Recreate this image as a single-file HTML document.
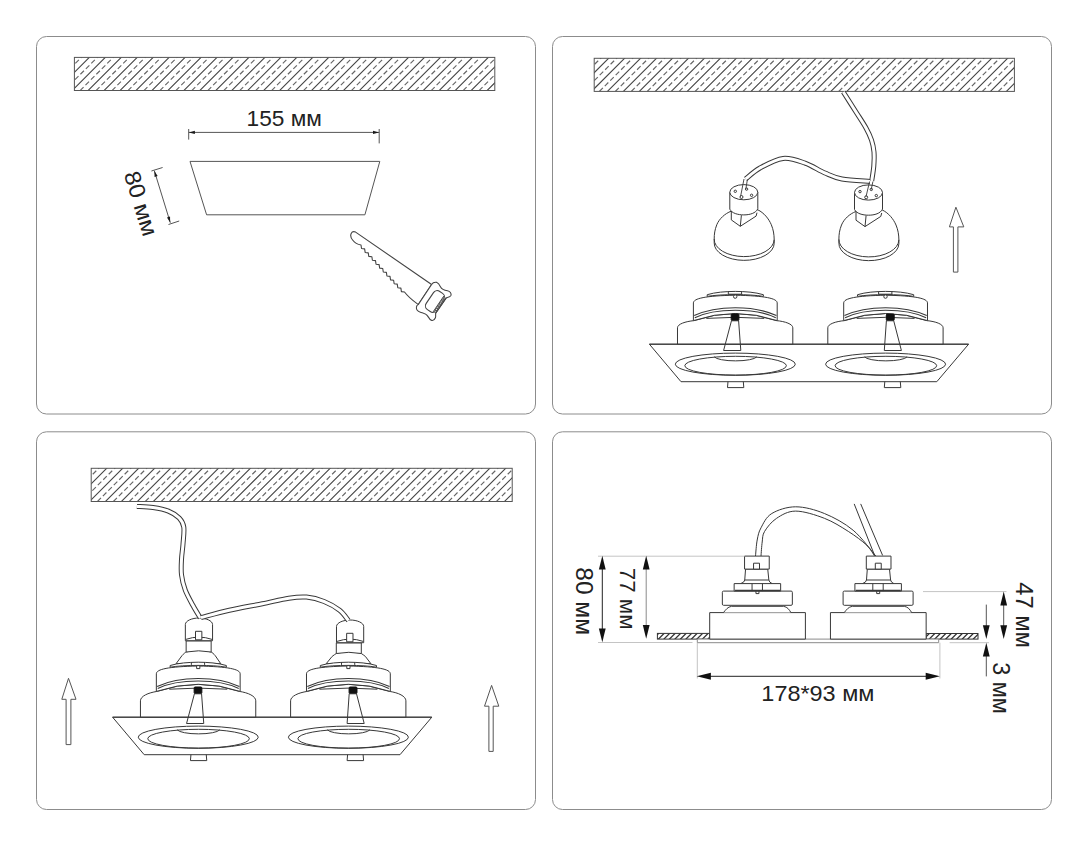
<!DOCTYPE html><html><head><meta charset="utf-8"><style>html,body{margin:0;padding:0;background:#fff;}svg{display:block;font-family:"Liberation Sans",sans-serif;}</style></head><body><svg width="1088" height="846" viewBox="0 0 1088 846"><rect width="1088" height="846" fill="#fff"/><rect x="36.5" y="36.5" width="499" height="377.5" rx="10" ry="10" fill="none" stroke="#8c8c8c" stroke-width="1"/>
<rect x="552.5" y="36.5" width="499" height="377.5" rx="10" ry="10" fill="none" stroke="#8c8c8c" stroke-width="1"/>
<rect x="36.5" y="431.8" width="499" height="377.7" rx="10" ry="10" fill="none" stroke="#8c8c8c" stroke-width="1"/>
<rect x="552.5" y="431.8" width="499" height="377.7" rx="10" ry="10" fill="none" stroke="#8c8c8c" stroke-width="1"/>
<clipPath id="hc1"><rect x="74.4" y="57.4" width="420.4" height="33.1"/></clipPath>
<g clip-path="url(#hc1)"><path d="M60.38,54.4L21.28,93.5M76.34,54.4L37.24,93.5M92.3,54.4L53.2,93.5M108.26,54.4L69.16,93.5M124.22,54.4L85.12,93.5M140.18,54.4L101.08,93.5M156.14,54.4L117.04,93.5M172.1,54.4L133,93.5M188.06,54.4L148.96,93.5M204.02,54.4L164.92,93.5M219.98,54.4L180.88,93.5M235.94,54.4L196.84,93.5M251.9,54.4L212.8,93.5M267.86,54.4L228.76,93.5M283.82,54.4L244.72,93.5M299.78,54.4L260.68,93.5M315.74,54.4L276.64,93.5M331.7,54.4L292.6,93.5M347.66,54.4L308.56,93.5M363.62,54.4L324.52,93.5M379.58,54.4L340.48,93.5M395.54,54.4L356.44,93.5M411.5,54.4L372.4,93.5M427.46,54.4L388.36,93.5M443.42,54.4L404.32,93.5M459.38,54.4L420.28,93.5M475.34,54.4L436.24,93.5M491.3,54.4L452.2,93.5M507.26,54.4L468.16,93.5M523.22,54.4L484.12,93.5M539.18,54.4L500.08,93.5M555.14,54.4L516.04,93.5" stroke="#444" stroke-width="1.1" fill="none"/><path d="M68.36,54.4L29.26,93.5M84.32,54.4L45.22,93.5M100.28,54.4L61.18,93.5M116.24,54.4L77.14,93.5M132.2,54.4L93.1,93.5M148.16,54.4L109.06,93.5M164.12,54.4L125.02,93.5M180.08,54.4L140.98,93.5M196.04,54.4L156.94,93.5M212,54.4L172.9,93.5M227.96,54.4L188.86,93.5M243.92,54.4L204.82,93.5M259.88,54.4L220.78,93.5M275.84,54.4L236.74,93.5M291.8,54.4L252.7,93.5M307.76,54.4L268.66,93.5M323.72,54.4L284.62,93.5M339.68,54.4L300.58,93.5M355.64,54.4L316.54,93.5M371.6,54.4L332.5,93.5M387.56,54.4L348.46,93.5M403.52,54.4L364.42,93.5M419.48,54.4L380.38,93.5M435.44,54.4L396.34,93.5M451.4,54.4L412.3,93.5M467.36,54.4L428.26,93.5M483.32,54.4L444.22,93.5M499.28,54.4L460.18,93.5M515.24,54.4L476.14,93.5M531.2,54.4L492.1,93.5M547.16,54.4L508.06,93.5M563.12,54.4L524.02,93.5" stroke="#666" stroke-width="1.15" stroke-dasharray="5 2.7" fill="none"/></g>
<rect x="74.4" y="57.4" width="420.4" height="33.1" fill="none" stroke="#555" stroke-width="1"/>
<clipPath id="hc2"><rect x="594.2" y="58.3" width="420.2" height="33.1"/></clipPath>
<g clip-path="url(#hc2)"><path d="M579.68,55.3L540.58,94.4M595.64,55.3L556.54,94.4M611.6,55.3L572.5,94.4M627.56,55.3L588.46,94.4M643.52,55.3L604.42,94.4M659.48,55.3L620.38,94.4M675.44,55.3L636.34,94.4M691.4,55.3L652.3,94.4M707.36,55.3L668.26,94.4M723.32,55.3L684.22,94.4M739.28,55.3L700.18,94.4M755.24,55.3L716.14,94.4M771.2,55.3L732.1,94.4M787.16,55.3L748.06,94.4M803.12,55.3L764.02,94.4M819.08,55.3L779.98,94.4M835.04,55.3L795.94,94.4M851,55.3L811.9,94.4M866.96,55.3L827.86,94.4M882.92,55.3L843.82,94.4M898.88,55.3L859.78,94.4M914.84,55.3L875.74,94.4M930.8,55.3L891.7,94.4M946.76,55.3L907.66,94.4M962.72,55.3L923.62,94.4M978.68,55.3L939.58,94.4M994.64,55.3L955.54,94.4M1010.6,55.3L971.5,94.4M1026.56,55.3L987.46,94.4M1042.52,55.3L1003.42,94.4M1058.48,55.3L1019.38,94.4M1074.44,55.3L1035.34,94.4" stroke="#444" stroke-width="1.1" fill="none"/><path d="M587.66,55.3L548.56,94.4M603.62,55.3L564.52,94.4M619.58,55.3L580.48,94.4M635.54,55.3L596.44,94.4M651.5,55.3L612.4,94.4M667.46,55.3L628.36,94.4M683.42,55.3L644.32,94.4M699.38,55.3L660.28,94.4M715.34,55.3L676.24,94.4M731.3,55.3L692.2,94.4M747.26,55.3L708.16,94.4M763.22,55.3L724.12,94.4M779.18,55.3L740.08,94.4M795.14,55.3L756.04,94.4M811.1,55.3L772,94.4M827.06,55.3L787.96,94.4M843.02,55.3L803.92,94.4M858.98,55.3L819.88,94.4M874.94,55.3L835.84,94.4M890.9,55.3L851.8,94.4M906.86,55.3L867.76,94.4M922.82,55.3L883.72,94.4M938.78,55.3L899.68,94.4M954.74,55.3L915.64,94.4M970.7,55.3L931.6,94.4M986.66,55.3L947.56,94.4M1002.62,55.3L963.52,94.4M1018.58,55.3L979.48,94.4M1034.54,55.3L995.44,94.4M1050.5,55.3L1011.4,94.4M1066.46,55.3L1027.36,94.4M1082.42,55.3L1043.32,94.4" stroke="#666" stroke-width="1.15" stroke-dasharray="5 2.7" fill="none"/></g>
<rect x="594.2" y="58.3" width="420.2" height="33.1" fill="none" stroke="#555" stroke-width="1"/>
<clipPath id="hc3"><rect x="91.2" y="468.3" width="421" height="33.2"/></clipPath>
<g clip-path="url(#hc3)"><path d="M77.78,465.3L38.58,504.5M93.74,465.3L54.54,504.5M109.7,465.3L70.5,504.5M125.66,465.3L86.46,504.5M141.62,465.3L102.42,504.5M157.58,465.3L118.38,504.5M173.54,465.3L134.34,504.5M189.5,465.3L150.3,504.5M205.46,465.3L166.26,504.5M221.42,465.3L182.22,504.5M237.38,465.3L198.18,504.5M253.34,465.3L214.14,504.5M269.3,465.3L230.1,504.5M285.26,465.3L246.06,504.5M301.22,465.3L262.02,504.5M317.18,465.3L277.98,504.5M333.14,465.3L293.94,504.5M349.1,465.3L309.9,504.5M365.06,465.3L325.86,504.5M381.02,465.3L341.82,504.5M396.98,465.3L357.78,504.5M412.94,465.3L373.74,504.5M428.9,465.3L389.7,504.5M444.86,465.3L405.66,504.5M460.82,465.3L421.62,504.5M476.78,465.3L437.58,504.5M492.74,465.3L453.54,504.5M508.7,465.3L469.5,504.5M524.66,465.3L485.46,504.5M540.62,465.3L501.42,504.5M556.58,465.3L517.38,504.5M572.54,465.3L533.34,504.5" stroke="#444" stroke-width="1.1" fill="none"/><path d="M85.76,465.3L46.56,504.5M101.72,465.3L62.52,504.5M117.68,465.3L78.48,504.5M133.64,465.3L94.44,504.5M149.6,465.3L110.4,504.5M165.56,465.3L126.36,504.5M181.52,465.3L142.32,504.5M197.48,465.3L158.28,504.5M213.44,465.3L174.24,504.5M229.4,465.3L190.2,504.5M245.36,465.3L206.16,504.5M261.32,465.3L222.12,504.5M277.28,465.3L238.08,504.5M293.24,465.3L254.04,504.5M309.2,465.3L270,504.5M325.16,465.3L285.96,504.5M341.12,465.3L301.92,504.5M357.08,465.3L317.88,504.5M373.04,465.3L333.84,504.5M389,465.3L349.8,504.5M404.96,465.3L365.76,504.5M420.92,465.3L381.72,504.5M436.88,465.3L397.68,504.5M452.84,465.3L413.64,504.5M468.8,465.3L429.6,504.5M484.76,465.3L445.56,504.5M500.72,465.3L461.52,504.5M516.68,465.3L477.48,504.5M532.64,465.3L493.44,504.5M548.6,465.3L509.4,504.5M564.56,465.3L525.36,504.5M580.52,465.3L541.32,504.5" stroke="#666" stroke-width="1.15" stroke-dasharray="5 2.7" fill="none"/></g>
<rect x="91.2" y="468.3" width="421" height="33.2" fill="none" stroke="#555" stroke-width="1"/>
<polygon points="190,161.4 379.8,161.4 364.9,214.8 206.6,214.8" fill="#fff" stroke="#555" stroke-width="1"/>
<path d="M188.7,132.4H379.2M188.7,129V139.6M379.2,129V143.4" stroke="#555" stroke-width="1" fill="none"/>
<polygon points="188.9,132.4 194.9,130.8 194.9,134" fill="#1a1a1a"/>
<polygon points="379,132.4 373,134 373,130.8" fill="#1a1a1a"/>
<text x="0" y="0" font-size="22.4" textLength="75.27" lengthAdjust="spacingAndGlyphs" transform="translate(246.55,126.25) rotate(0)" fill="#222" stroke="#fff" stroke-width="0.5" paint-order="stroke">155 мм</text>
<path d="M154.3,170.7L170.3,222.7M151.4,171L162.6,167.5M168.5,224.5L179.2,221" stroke="#555" stroke-width="1" fill="none"/>
<polygon points="154.4,171 157.63,176.07 154.58,177.01" fill="#1a1a1a"/>
<polygon points="170.2,222.5 166.97,217.43 170.02,216.49" fill="#1a1a1a"/>
<text x="0" y="0" font-size="22.6" textLength="66.6" lengthAdjust="spacingAndGlyphs" transform="translate(123.83,174.0) rotate(73)" fill="#222" stroke="#fff" stroke-width="0.5" paint-order="stroke">80 мм</text>
<path d="M355.6,232.1L431.6,284.5L418.3,304.5C413.5,301 409,298 404.5,292L404.5,292L401.4,291.6L400.88,288.08L397.78,287.68L397.25,284.17L394.15,283.76L393.62,280.25L390.53,279.85L390,276.33L386.9,275.93L386.38,272.42L383.28,272.01L382.75,268.5L379.65,268.1L379.12,264.58L376.03,264.18L375.5,260.67L372.4,260.26L371.88,256.75L368.78,256.35L368.25,252.83L365.15,252.43L364.62,248.92L361.53,248.51L361,245C358,244.5 354.5,242.5 352.6,240 C350.6,237.5 350.4,235 351.2,233.4 C352,231.8 353.6,231.3 355.6,232.1Z" fill="#fff" stroke="#444" stroke-width="1.1" stroke-linejoin="round"/>
<path d="M431.6,284.5C432.5,283 434.5,282 436.9,282.4C438.6,283 439.6,285 440.6,287C441.6,289 444,290.2 447.5,290.7C450,291.3 451.6,293.4 451,295.4C450.3,297 448.6,297.2 446.5,297.8L436,312.6C435,314 436.2,316 435.4,317.8C434.6,319.8 433,320.8 431.6,320.4C429.6,319.8 428.6,317.5 427.4,315.6C426.2,313.6 423.4,313.2 420.4,312.2C417.8,311.4 416.2,309.6 416.4,307.4C416.5,305.6 417.4,304.8 418.3,304.5Z" fill="#fff" stroke="#444" stroke-width="1.1"/>
<g transform="translate(435,301.5) rotate(-56)"><rect x="-11" y="-6.2" width="22" height="12.4" rx="4.5" fill="#fff" stroke="#444" stroke-width="1.1"/></g>
<g transform="translate(439.7,304.8) rotate(-56)" stroke="#444" stroke-width="0.9" fill="#fff"><path d="M-9.5,-1.5H9.5M-9.5,1.5H9.5"/><circle cx="-8" cy="0" r="0.95"/><circle cx="-5.7" cy="0" r="0.95"/><circle cx="-3.4" cy="0" r="0.95"/><circle cx="-1.1" cy="0" r="0.95"/><circle cx="1.2" cy="0" r="0.95"/><circle cx="3.5" cy="0" r="0.95"/><circle cx="5.8" cy="0" r="0.95"/><circle cx="8.1" cy="0" r="0.95"/></g>
<polygon points="649.4,344.2 968.6,344.2 936.8,381.7 681,381.7" fill="#fff" stroke="#383838" stroke-width="1"/>
<g transform="translate(735.3,344.2)" stroke="#383838" stroke-width="1" fill="none" stroke-linejoin="round">
<path d="M-57.8,0V-16.4C-57.8,-20.12 -50,-22.74 -41.1,-23.6Q0,-37.8 41.1,-23.6C50,-22.74 57.5,-20.12 57.5,-16.4V0Z" fill="#fff"/>
<g transform="translate(0,2.2)">
<path d="M-29,-28Q0,-30.2 29,-28"/>
<path d="M-41.9,-25.8V-43.4C-41.9,-48 -30,-50.6 0,-51.2C30,-50.6 41.9,-48 41.9,-43.4V-25.8Q0,-40 -41.9,-25.8Z" fill="#fff"/>
<path d="M-41.1,-30.8C-30,-36 -15,-38.7 0,-38.7C15,-38.7 30,-36 41.1,-30.8M-40.5,-28.7C-30,-33.9 -15,-36.2 0,-36.2C15,-36.2 30,-33.9 40.5,-28.7" stroke-width="1.15"/>
<path d="M-28.1,-50V-51.7C-20,-54.2 -10,-54.9 0,-55C10,-54.9 20,-54.2 28.1,-51.7V-50C15,-52.4 -15,-52.4 -28.1,-50Z" fill="#fff"/>
<path d="M-7,-54.9V-52.2H6.3V-54.9"/>
<circle cx="-0.1" cy="-49.8" r="1.7" fill="#fff"/>
</g>
<rect x="-4.1" y="-30.2" width="7.7" height="6.6" rx="1" fill="#111" stroke="#111"/>
<path d="M-3.8,-23.5L3.3,-23.5L5.5,6.3H-11.7Z"/>
<path d="M-7.3,37.4L-7.8,43.4H8.5L8,37.4"/>
<ellipse cx="0" cy="20" rx="60" ry="11.1"/>
<ellipse cx="0.3" cy="21.5" rx="50.8" ry="9.4"/>
<path d="M-21,12.6A21.5,4.8 0 0 0 21.5,12.6"/>
</g>
<g transform="translate(885.6,344.2)" stroke="#383838" stroke-width="1" fill="none" stroke-linejoin="round">
<path d="M-57.8,0V-16.4C-57.8,-20.12 -50,-22.74 -41.1,-23.6Q0,-37.8 41.1,-23.6C50,-22.74 57.5,-20.12 57.5,-16.4V0Z" fill="#fff"/>
<g transform="translate(0,2.2)">
<path d="M-29,-28Q0,-30.2 29,-28"/>
<path d="M-41.9,-25.8V-43.4C-41.9,-48 -30,-50.6 0,-51.2C30,-50.6 41.9,-48 41.9,-43.4V-25.8Q0,-40 -41.9,-25.8Z" fill="#fff"/>
<path d="M-41.1,-30.8C-30,-36 -15,-38.7 0,-38.7C15,-38.7 30,-36 41.1,-30.8M-40.5,-28.7C-30,-33.9 -15,-36.2 0,-36.2C15,-36.2 30,-33.9 40.5,-28.7" stroke-width="1.15"/>
<path d="M-28.1,-50V-51.7C-20,-54.2 -10,-54.9 0,-55C10,-54.9 20,-54.2 28.1,-51.7V-50C15,-52.4 -15,-52.4 -28.1,-50Z" fill="#fff"/>
<path d="M-7,-54.9V-52.2H6.3V-54.9"/>
<circle cx="-0.1" cy="-49.8" r="1.7" fill="#fff"/>
</g>
<rect x="0.7" y="-30.2" width="7.9" height="6.6" rx="1" fill="#111" stroke="#111"/>
<path d="M0.8,-23.5L8.1,-23.5L15.8,6.3H-1.3Z"/>
<path d="M-0.8,37.4L-1.3,43.4H15.2L14.7,37.4"/>
<ellipse cx="0" cy="20" rx="60" ry="11.1"/>
<ellipse cx="0.3" cy="21.5" rx="50.8" ry="9.4"/>
<path d="M-21,12.6A21.5,4.8 0 0 0 21.5,12.6"/>
</g>
<path d="M649.4,344.2H968.6" stroke="#383838" stroke-width="1"/>
<polygon points="112.6,717.2 431.8,717.2 400,754.7 144.2,754.7" fill="#fff" stroke="#383838" stroke-width="1"/>
<g transform="translate(198.25,717.2)" stroke="#383838" stroke-width="1" fill="none" stroke-linejoin="round">
<path d="M-57.8,0V-16.4C-57.8,-21 -50,-24.5 -41.1,-25.8Q0,-40 41.1,-25.8C50,-24.5 57.5,-21 57.5,-16.4V0Z" fill="#fff"/>
<g transform="translate(0,0)">
<path d="M-29,-28Q0,-30.2 29,-28"/>
<path d="M-41.9,-25.8V-43.4C-41.9,-48 -30,-50.6 0,-51.2C30,-50.6 41.9,-48 41.9,-43.4V-25.8Q0,-40 -41.9,-25.8Z" fill="#fff"/>
<path d="M-41.1,-30.8C-30,-36 -15,-38.7 0,-38.7C15,-38.7 30,-36 41.1,-30.8M-40.5,-28.7C-30,-33.9 -15,-36.2 0,-36.2C15,-36.2 30,-33.9 40.5,-28.7" stroke-width="1.15"/>
<path d="M-22.2,-53.5L-16.3,-61.5C-14.5,-63.6 -13.2,-64.6 -12.1,-65.2Q0,-68.4 12.9,-65.2C14,-64.6 15.5,-63.4 17,-61.5L22.5,-53.5Z" fill="#fff"/>
<path d="M-12.1,-65.2V-76.3H12.9V-65.2" fill="#fff"/>
<path d="M-12.1,-65.2Q0.4,-67.6 12.9,-65.2"/>
<path d="M-12.9,-76.5V-92.7C-12.9,-96.5 -6,-99.2 0.7,-99.2C7.5,-99.2 14.3,-96.5 14.3,-92.7V-76.5Z" fill="#fff"/>
<path d="M-12.4,-77.8Q0.7,-82.4 13.8,-77.8"/>
<rect x="-2.75" y="-85.9" width="6.35" height="8.5" fill="#fff"/>
<path d="M-28.1,-50V-51.7C-20,-54.2 -10,-54.9 0,-55C10,-54.9 20,-54.2 28.1,-51.7V-50C15,-52.4 -15,-52.4 -28.1,-50Z" fill="#fff"/>
<path d="M-6.9,-54.8V-52.3M6.35,-54.8V-52.3"/>
<rect x="-1.6" y="-51.6" width="3.2" height="3" fill="#fff"/>
</g>
<rect x="-4.1" y="-30.2" width="7.7" height="6.6" rx="1" fill="#111" stroke="#111"/>
<path d="M-3.8,-23.5L3.3,-23.5L5.5,6.3H-11.7Z"/>
<path d="M-7.3,37.4L-7.8,43.4H8.5L8,37.4"/>
<ellipse cx="0" cy="20" rx="60" ry="11.1"/>
<ellipse cx="0.3" cy="21.5" rx="50.8" ry="9.4"/>
<path d="M-21,12.6A21.5,4.8 0 0 0 21.5,12.6"/>
</g>
<g transform="translate(348.4,717.2)" stroke="#383838" stroke-width="1" fill="none" stroke-linejoin="round">
<path d="M-57.8,0V-16.4C-57.8,-21 -50,-24.5 -41.1,-25.8Q0,-40 41.1,-25.8C50,-24.5 57.5,-21 57.5,-16.4V0Z" fill="#fff"/>
<g transform="translate(0,0)">
<path d="M-29,-28Q0,-30.2 29,-28"/>
<path d="M-41.9,-25.8V-43.4C-41.9,-48 -30,-50.6 0,-51.2C30,-50.6 41.9,-48 41.9,-43.4V-25.8Q0,-40 -41.9,-25.8Z" fill="#fff"/>
<path d="M-41.1,-30.8C-30,-36 -15,-38.7 0,-38.7C15,-38.7 30,-36 41.1,-30.8M-40.5,-28.7C-30,-33.9 -15,-36.2 0,-36.2C15,-36.2 30,-33.9 40.5,-28.7" stroke-width="1.15"/>
<path d="M-22.2,-53.5L-16.3,-60.75C-14.5,-62.1 -13.2,-63.1 -12.1,-63.7Q0,-66.9 12.9,-63.7C14,-63.1 15.5,-61.9 17,-60.75L22.5,-53.5Z" fill="#fff"/>
<path d="M-12.1,-63.7V-74.3H12.9V-63.7" fill="#fff"/>
<path d="M-12.1,-63.7Q0.4,-66.1 12.9,-63.7"/>
<path d="M-11.9,-74.5V-90.7C-11.9,-94.5 -5,-97.2 1.7,-97.2C8.5,-97.2 15.3,-94.5 15.3,-90.7V-74.5Z" fill="#fff"/>
<path d="M-11.4,-75.8Q1.7,-80.4 14.8,-75.8"/>
<rect x="-1.75" y="-83.9" width="6.35" height="8.5" fill="#fff"/>
<path d="M-28.1,-50V-51.7C-20,-54.2 -10,-54.9 0,-55C10,-54.9 20,-54.2 28.1,-51.7V-50C15,-52.4 -15,-52.4 -28.1,-50Z" fill="#fff"/>
<path d="M-6.9,-54.8V-52.3M6.35,-54.8V-52.3"/>
<rect x="-1.6" y="-51.6" width="3.2" height="3" fill="#fff"/>
</g>
<rect x="0.7" y="-30.2" width="7.9" height="6.6" rx="1" fill="#111" stroke="#111"/>
<path d="M0.8,-23.5L8.1,-23.5L15.8,6.3H-1.3Z"/>
<path d="M-0.8,37.4L-1.3,43.4H15.2L14.7,37.4"/>
<ellipse cx="0" cy="20" rx="60" ry="11.1"/>
<ellipse cx="0.3" cy="21.5" rx="50.8" ry="9.4"/>
<path d="M-21,12.6A21.5,4.8 0 0 0 21.5,12.6"/>
</g>
<path d="M112.6,717.2H431.8" stroke="#383838" stroke-width="1"/>
<path d="M136.9,506.4C139.58,506.58 147.75,506.72 153,507.5C158.25,508.28 164.03,509.35 168.4,511.1C172.77,512.85 176.63,515.32 179.2,518C181.77,520.68 183.17,522.85 183.8,527.2C184.43,531.55 183.38,538.73 183,544.1C182.62,549.47 181.75,554.28 181.5,559.4C181.25,564.52 180.87,569.67 181.5,574.8C182.13,579.93 183.38,585.08 185.3,590.2C187.22,595.32 190.5,600.87 193,605.5C195.5,610.13 199.08,615.92 200.3,618" fill="none" stroke="#383838" stroke-width="5" stroke-linecap="butt"/>
<path d="M136.9,506.4C139.58,506.58 147.75,506.72 153,507.5C158.25,508.28 164.03,509.35 168.4,511.1C172.77,512.85 176.63,515.32 179.2,518C181.77,520.68 183.17,522.85 183.8,527.2C184.43,531.55 183.38,538.73 183,544.1C182.62,549.47 181.75,554.28 181.5,559.4C181.25,564.52 180.87,569.67 181.5,574.8C182.13,579.93 183.38,585.08 185.3,590.2C187.22,595.32 190.5,600.87 193,605.5C195.5,610.13 199.08,615.92 200.3,618" fill="none" stroke="#fff" stroke-width="3" stroke-linecap="butt"/>
<path d="M201,617.5C205.72,616.3 219.07,612.6 229.3,610.3C239.53,608 252.48,605.72 262.4,603.7C272.32,601.68 281.45,599.3 288.8,598.2C296.15,597.1 300.62,596.55 306.5,597.1C312.38,597.65 318.58,599.3 324.1,601.5C329.62,603.7 335.55,607.13 339.6,610.3C343.65,613.47 346.93,618.8 348.4,620.5" fill="none" stroke="#383838" stroke-width="5" stroke-linecap="butt"/>
<path d="M201,617.5C205.72,616.3 219.07,612.6 229.3,610.3C239.53,608 252.48,605.72 262.4,603.7C272.32,601.68 281.45,599.3 288.8,598.2C296.15,597.1 300.62,596.55 306.5,597.1C312.38,597.65 318.58,599.3 324.1,601.5C329.62,603.7 335.55,607.13 339.6,610.3C343.65,613.47 346.93,618.8 348.4,620.5" fill="none" stroke="#fff" stroke-width="3" stroke-linecap="butt"/>
<polygon points="68.5,678.3 76,699.3 70.9,699.3 70.9,744.6 66.1,744.6 66.1,699.3 61.8,699.3" fill="#fff" stroke="#555" stroke-width="1"/>
<polygon points="491.6,685.4 498.8,706.2 493.2,706.2 493.2,751.4 488.9,751.4 488.9,706.2 484.5,706.2" fill="#fff" stroke="#555" stroke-width="1"/>
<polygon points="955.9,207.2 963.8,226.9 957.9,226.9 957.9,272.1 953.4,272.1 953.4,226.9 949.4,226.9" fill="#fff" stroke="#555" stroke-width="1"/>
<g transform="translate(743.8,192.2)" stroke="#383838" stroke-width="1" fill="none" stroke-linejoin="round">
<path d="M-12.5,18.9C-19,21.5 -24.5,26.5 -27,32.5C-29,37.5 -29.6,42 -29.6,46.8V50.7A30,17.2 0 0 0 30.4,51.2V47.5C30.3,42 29.6,37.5 27.5,32.5C25,26.5 20,20.5 14,17.6Z" fill="#fff"/>
<path d="M-29.6,46.8A30,17.3 0 0 0 30.4,47.4"/>
<path d="M-14,0V17C-12,21 -6,22.7 0,22.7C6,22.7 12,21 14,16.6V0" fill="#fff"/>
<ellipse cx="0" cy="0" rx="14" ry="7.6" fill="#fff"/>
<path d="M-12.5,18.9V27.7L-3.5,34.1L-2.4,23M-3.5,34.1L12.3,23.9L13.2,20.5" fill="none"/>
<circle cx="-8.5" cy="-0.9" r="1.2"/><circle cx="-2.3" cy="4.8" r="1.5"/><circle cx="7.8" cy="3.1" r="1.2"/><circle cx="2.8" cy="-3.1" r="1.2"/>
</g>
<g transform="translate(868.5,192.5)" stroke="#383838" stroke-width="1" fill="none" stroke-linejoin="round">
<path d="M-12.5,18.9C-19,21.5 -24.5,26.5 -27,32.5C-29,37.5 -29.6,42 -29.6,46.8V50.7A30,17.2 0 0 0 30.4,51.2V47.5C30.3,42 29.6,37.5 27.5,32.5C25,26.5 20,20.5 14,17.6Z" fill="#fff"/>
<path d="M-29.6,46.8A30,17.3 0 0 0 30.4,47.4"/>
<path d="M-14,0V17C-12,21 -6,22.7 0,22.7C6,22.7 12,21 14,16.6V0" fill="#fff"/>
<ellipse cx="0" cy="0" rx="14" ry="7.6" fill="#fff"/>
<path d="M-12.5,18.9V27.7L-3.5,34.1L-2.4,23M-3.5,34.1L12.3,23.9L13.2,20.5" fill="none"/>
<circle cx="-8.5" cy="-0.9" r="1.2"/><circle cx="-2.3" cy="4.8" r="1.5"/><circle cx="7.8" cy="3.1" r="1.2"/><circle cx="2.8" cy="-3.1" r="1.2"/>
</g>
<path d="M843.3,92C845.42,95.33 852.22,106 856,112C859.78,118 863.42,123.33 866,128C868.58,132.67 870.17,136 871.5,140C872.83,144 873.62,147.67 874,152C874.38,156.33 874.18,161.17 873.8,166C873.42,170.83 872.05,178.5 871.7,181" fill="none" stroke="#383838" stroke-width="5" stroke-linecap="butt"/>
<path d="M843.3,92C845.42,95.33 852.22,106 856,112C859.78,118 863.42,123.33 866,128C868.58,132.67 870.17,136 871.5,140C872.83,144 873.62,147.67 874,152C874.38,156.33 874.18,161.17 873.8,166C873.42,170.83 872.05,178.5 871.7,181" fill="none" stroke="#fff" stroke-width="3" stroke-linecap="butt"/>
<path d="M745.6,179C748,177.17 753.75,171.43 760,168C766.25,164.57 775.6,159.22 783.1,158.4C790.6,157.58 798.02,160.67 805,163.1C811.98,165.53 818.83,170.35 825,173C831.17,175.65 834.5,177.58 842,179C849.5,180.42 865.33,181.08 870,181.5" fill="none" stroke="#383838" stroke-width="5" stroke-linecap="butt"/>
<path d="M745.6,179C748,177.17 753.75,171.43 760,168C766.25,164.57 775.6,159.22 783.1,158.4C790.6,157.58 798.02,160.67 805,163.1C811.98,165.53 818.83,170.35 825,173C831.17,175.65 834.5,177.58 842,179C849.5,180.42 865.33,181.08 870,181.5" fill="none" stroke="#fff" stroke-width="3" stroke-linecap="butt"/>
<path d="M744,179L740.6,196.4M747.4,179.4L745.8,189.4" stroke="#383838" stroke-width="0.9" fill="none"/>
<path d="M869.6,181.5L866,196.7M872.9,181.6L871.2,189.6" stroke="#383838" stroke-width="0.9" fill="none"/>
<clipPath id="hc4"><rect x="657.4" y="633.4" width="52.3" height="5.7"/></clipPath>
<g clip-path="url(#hc4)"><path d="M655.1,631.4L645.4,641.1M660.6,631.4L650.9,641.1M666.1,631.4L656.4,641.1M671.6,631.4L661.9,641.1M677.1,631.4L667.4,641.1M682.6,631.4L672.9,641.1M688.1,631.4L678.4,641.1M693.6,631.4L683.9,641.1M699.1,631.4L689.4,641.1M704.6,631.4L694.9,641.1M710.1,631.4L700.4,641.1M715.6,631.4L705.9,641.1M721.1,631.4L711.4,641.1M726.6,631.4L716.9,641.1" stroke="#333" stroke-width="1.3" fill="none"/></g>
<rect x="657.4" y="633.4" width="52.3" height="5.7" fill="none" stroke="#333" stroke-width="1"/>
<clipPath id="hc5"><rect x="926.2" y="633.5" width="51.8" height="5.6"/></clipPath>
<g clip-path="url(#hc5)"><path d="M925.8,631.5L916.2,641.1M931.3,631.5L921.7,641.1M936.8,631.5L927.2,641.1M942.3,631.5L932.7,641.1M947.8,631.5L938.2,641.1M953.3,631.5L943.7,641.1M958.8,631.5L949.2,641.1M964.3,631.5L954.7,641.1M969.8,631.5L960.2,641.1M975.3,631.5L965.7,641.1M980.8,631.5L971.2,641.1M986.3,631.5L976.7,641.1M991.8,631.5L982.2,641.1" stroke="#333" stroke-width="1.3" fill="none"/></g>
<rect x="926.2" y="633.5" width="51.8" height="5.6" fill="none" stroke="#333" stroke-width="1"/>
<path d="M697.3,639.1H938.7V642.7H697.3Z" fill="#fff" stroke="#8a8a8a" stroke-width="1"/>
<g transform="translate(757.55,0)" stroke="#383838" stroke-width="1" fill="none" stroke-linejoin="round">
<rect x="-47.85" y="612.6" width="95.7" height="26.5" fill="#fff"/>
<path d="M-34.1,612.6C-31.5,609.5 -30,607 -26,606.3H26C30,607 31.5,609.5 33.4,612.6" fill="#fff"/>
<rect x="-35.2" y="591.1" width="70" height="14.2" rx="1.2" fill="#fff"/>
<path d="M-16.8,583.6Q-13,582.3 -12.8,580L-12,569.1H10.2L11.3,580Q11.5,582.3 14.6,583.6" fill="#fff"/>
<path d="M-12.8,580H11.3"/>
<rect x="-23.4" y="583.6" width="46.5" height="7.5" fill="#fff"/>
<path d="M-22.5,590.4H22.5" stroke-width="1.2"/>
<path d="M-5.5,583.6V591.1M4.9,583.6V591.1"/>
<path d="M-1.6,591.1V593.6H1.4V591.1"/>
<rect x="-13" y="556.1" width="24.7" height="13" fill="#fff"/>
<rect x="-4" y="563.2" width="5.95" height="5.9" fill="#fff"/>
</g>
<g transform="translate(878.3,0)" stroke="#383838" stroke-width="1" fill="none" stroke-linejoin="round">
<rect x="-47.85" y="612.6" width="95.7" height="26.5" fill="#fff"/>
<path d="M-34.1,612.6C-31.5,609.5 -30,607 -26,606.3H26C30,607 31.5,609.5 33.4,612.6" fill="#fff"/>
<rect x="-35.2" y="591.1" width="70" height="14.2" rx="1.2" fill="#fff"/>
<path d="M-15.8,583.6Q-12,582.3 -11.8,580L-11,569.1H11.2L12.3,580Q12.5,582.3 15.6,583.6" fill="#fff"/>
<path d="M-11.8,580H12.3"/>
<rect x="-23.4" y="583.6" width="46.5" height="7.5" fill="#fff"/>
<path d="M-22.5,590.4H22.5" stroke-width="1.2"/>
<path d="M-5.5,583.6V591.1M4.9,583.6V591.1"/>
<path d="M-1.6,591.1V593.6H1.4V591.1"/>
<rect x="-12" y="556.1" width="24.7" height="13" fill="#fff"/>
<rect x="-3" y="563.2" width="5.95" height="5.9" fill="#fff"/>
</g>
<path d="M755.5,556C755.78,553.33 756.28,544.7 757.2,540C758.12,535.3 758.57,532.22 761,527.8C763.43,523.38 766.02,517 771.8,513.5C777.58,510 786.93,506.8 795.7,506.8C804.47,506.8 814.83,509.6 824.4,513.5C833.97,517.4 844.53,523.12 853.1,530.2C861.67,537.28 872.02,551.7 875.8,556" stroke="#383838" fill="none" stroke-width="1"/>
<path d="M761,556C761.2,553.67 761.6,546.1 762.2,542C762.8,537.9 762.2,535.35 764.6,531.4C767,527.45 771.42,521.68 776.6,518.3C781.78,514.92 787.73,511.1 795.7,511.1C803.67,511.1 815.63,514.92 824.4,518.3C833.17,521.68 841.28,526.95 848.3,531.4C855.32,535.85 862.12,540.9 866.5,545C870.88,549.1 873.25,554.17 874.6,556" stroke="#383838" fill="none" stroke-width="1"/>
<path d="M854.2,503.9L874.6,555.4M860.7,503.9L882.6,555.4" stroke="#383838" fill="none" stroke-width="1"/>
<path d="M598,556.2H744.5M598,642.5H692.5M697.3,643V678.5M939.9,642.7V678.5M923,591.6H1006.5M949.6,642.7H989" stroke="#c4c4c4" stroke-width="1" fill="none"/>
<path d="M602.3,568.6V629.5" stroke="#222" stroke-width="1" fill="none"/>
<polygon points="602.3,555.8 605.7,569.6 598.9,569.6" fill="#111"/>
<polygon points="602.3,642.3 598.9,628.5 605.7,628.5" fill="#111"/>
<path d="M646.2,568.6V626" stroke="#8a8a8a" stroke-width="1" fill="none"/>
<polygon points="646.2,555.8 649.6,569.6 642.8,569.6" fill="#111"/>
<polygon points="646.2,638.8 642.8,625 649.6,625" fill="#111"/>
<path d="M1003.7,604.4V626.3" stroke="#555" stroke-width="1" fill="none"/>
<polygon points="1003.7,591.6 1007.1,605.4 1000.3,605.4" fill="#111"/>
<polygon points="1003.7,639.1 1000.3,625.3 1007.1,625.3" fill="#111"/>
<path d="M986.3,604.6V626" stroke="#555" stroke-width="1"/>
<polygon points="986.3,639.1 982.9,625.3 989.7,625.3" fill="#111"/>
<path d="M986.3,656V676.4" stroke="#555" stroke-width="1"/>
<polygon points="986.3,642.7 989.7,656.5 982.9,656.5" fill="#111"/>
<path d="M709,676.3H927" stroke="#222" stroke-width="1"/>
<polygon points="696.7,676.3 710.9,672.8 710.9,679.8" fill="#111"/>
<polygon points="939.9,676.3 925.7,679.8 925.7,672.8" fill="#111"/>
<text x="0" y="0" font-size="22.4" textLength="113.05" lengthAdjust="spacingAndGlyphs" transform="translate(761.35,700.65) rotate(0)" fill="#222" stroke="#fff" stroke-width="0.5" paint-order="stroke">178*93 мм</text>
<text x="0" y="0" font-size="23.2" textLength="67.77" lengthAdjust="spacingAndGlyphs" transform="translate(576.35,567.3) rotate(90)" fill="#222" stroke="#fff" stroke-width="0.5" paint-order="stroke">80 мм</text>
<text x="0" y="0" font-size="22.6" textLength="61.86" lengthAdjust="spacingAndGlyphs" transform="translate(620.1,567.75) rotate(90)" fill="#222" stroke="#fff" stroke-width="0.5" paint-order="stroke">77 мм</text>
<text x="0" y="0" font-size="23" textLength="65.52" lengthAdjust="spacingAndGlyphs" transform="translate(1015.9,582.2) rotate(90)" fill="#222" stroke="#fff" stroke-width="0.5" paint-order="stroke">47 мм</text>
<text x="0" y="0" font-size="23" textLength="51.55" lengthAdjust="spacingAndGlyphs" transform="translate(992.95,662.3) rotate(90)" fill="#222" stroke="#fff" stroke-width="0.5" paint-order="stroke">3 мм</text></svg></body></html>
